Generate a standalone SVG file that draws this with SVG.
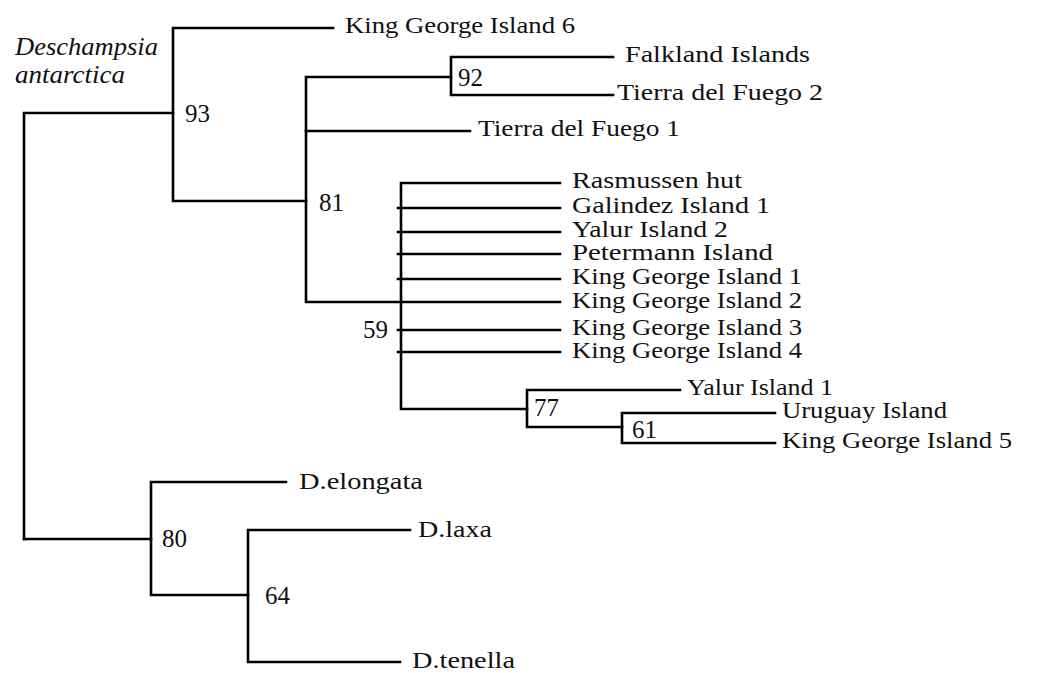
<svg xmlns="http://www.w3.org/2000/svg" width="1049" height="673" viewBox="0 0 1049 673">
<style>
.e{fill:none;stroke:#000;stroke-width:2.6;stroke-linecap:square;stroke-linejoin:miter}
.l{font-family:"Liberation Serif","Times New Roman",serif;font-size:22.5px;fill:#111}
.b{font-family:"Liberation Serif","Times New Roman",serif;font-size:25px;fill:#111}
.s{font-family:"Liberation Serif","Times New Roman",serif;font-size:25px;font-style:italic;fill:#111}
</style>
<rect width="1049" height="673" fill="#fff"/>
<g id="connectors">
<path class="e" d="M24,539V113H173"/>
<path class="e" d="M24,539H151"/>
<path class="e" d="M333,28H173V201H306"/>
<path class="e" d="M451,77H306V302H560"/>
<path class="e" d="M306,131H470"/>
<path class="e" d="M613,57H451V95H613"/>
<path class="e" d="M560,183H401V409H527"/>
<path class="e" d="M398,208H560M398,232H560M398,254H560M398,279H560M398,330H560M398,352H560"/>
<path class="e" d="M680,390H527V427H622"/>
<path class="e" d="M775,413H622V443H775"/>
<path class="e" d="M286,482H151V595H248"/>
<path class="e" d="M410,530H248V662H400"/>
</g>
<g id="clade-label"><text class="s" x="15" y="55" textLength="143" lengthAdjust="spacingAndGlyphs">Deschampsia</text><text class="s" x="15" y="83" textLength="110" lengthAdjust="spacingAndGlyphs">antarctica</text></g>
<g id="support">
<text class="b" x="185" y="122">93</text>
<text class="b" x="458" y="86">92</text>
<text class="b" x="319" y="211">81</text>
<text class="b" x="363" y="338">59</text>
<text class="b" x="534" y="416">77</text>
<text class="b" x="632" y="438">61</text>
<text class="b" x="162" y="547">80</text>
<text class="b" x="265" y="604">64</text>
</g>
<g id="tip-kgi6"><text class="l" x="345" y="33" textLength="230" lengthAdjust="spacingAndGlyphs">King George Island 6</text></g>
<g id="tip-falkland"><text class="l" x="625" y="62" textLength="185" lengthAdjust="spacingAndGlyphs">Falkland Islands</text></g>
<g id="tip-tdf2"><text class="l" x="617" y="100" textLength="206" lengthAdjust="spacingAndGlyphs">Tierra del Fuego 2</text></g>
<g id="tip-tdf1"><text class="l" x="478" y="136" textLength="202" lengthAdjust="spacingAndGlyphs">Tierra del Fuego 1</text></g>
<g id="tip-rasmussen"><text class="l" x="572" y="188" textLength="170" lengthAdjust="spacingAndGlyphs">Rasmussen hut</text></g>
<g id="tip-galindez"><text class="l" x="572" y="213" textLength="198" lengthAdjust="spacingAndGlyphs">Galindez Island 1</text></g>
<g id="tip-yalur2"><text class="l" x="572" y="237" textLength="156" lengthAdjust="spacingAndGlyphs">Yalur Island 2</text></g>
<g id="tip-petermann"><text class="l" x="572" y="260" textLength="201" lengthAdjust="spacingAndGlyphs">Petermann Island</text></g>
<g id="tip-kgi1"><text class="l" x="572" y="284" textLength="230" lengthAdjust="spacingAndGlyphs">King George Island 1</text></g>
<g id="tip-kgi2"><text class="l" x="572" y="308" textLength="230" lengthAdjust="spacingAndGlyphs">King George Island 2</text></g>
<g id="tip-kgi3"><text class="l" x="572" y="335" textLength="230" lengthAdjust="spacingAndGlyphs">King George Island 3</text></g>
<g id="tip-kgi4"><text class="l" x="572" y="358" textLength="230" lengthAdjust="spacingAndGlyphs">King George Island 4</text></g>
<g id="tip-yalur1"><text class="l" x="687" y="395" textLength="146" lengthAdjust="spacingAndGlyphs">Yalur Island 1</text></g>
<g id="tip-uruguay"><text class="l" x="782" y="418" textLength="165" lengthAdjust="spacingAndGlyphs">Uruguay Island</text></g>
<g id="tip-kgi5"><text class="l" x="782" y="448" textLength="230" lengthAdjust="spacingAndGlyphs">King George Island 5</text></g>
<g id="tip-elongata"><text class="l" x="299" y="489" textLength="124" lengthAdjust="spacingAndGlyphs">D.elongata</text></g>
<g id="tip-laxa"><text class="l" x="418" y="537" textLength="74" lengthAdjust="spacingAndGlyphs">D.laxa</text></g>
<g id="tip-tenella"><text class="l" x="412" y="668" textLength="103" lengthAdjust="spacingAndGlyphs">D.tenella</text></g>
</svg>
